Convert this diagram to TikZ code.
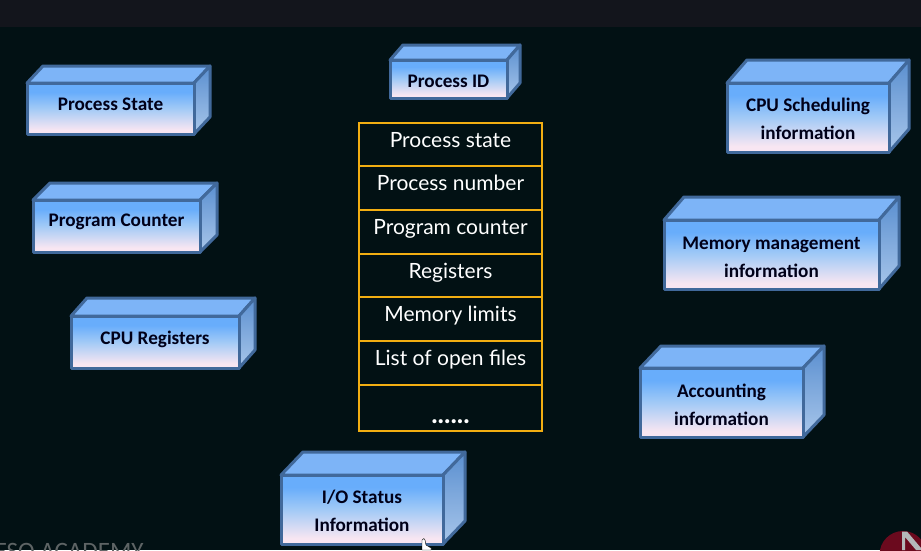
\documentclass[tikz,border=0pt]{standalone}
\usepackage{fontspec}
\setmainfont{Carlito}
\newfontfamily\tablefont{Lato}
\definecolor{bgmain}{HTML}{021114}
\definecolor{bgtop}{HTML}{13151C}
\definecolor{edgeblue}{HTML}{41699B}
\definecolor{faceTop}{HTML}{68ADFB}
\definecolor{faceMid}{HTML}{A2CAF6}
\definecolor{faceBot}{HTML}{F8E6F2}
\definecolor{lidcol}{HTML}{7DB4F7}
\definecolor{sideTop}{HTML}{5A8FD0}
\definecolor{sideBot}{HTML}{A8C6EA}
\definecolor{tablegold}{HTML}{F2AE12}
\definecolor{wine}{HTML}{6B0A1E}
\definecolor{markgray}{HTML}{B4B8BA}
\definecolor{academygray}{HTML}{5E6465}
\pgfdeclareverticalshading{facegrad}{100bp}{color(0bp)=(faceBot); color(29bp)=(faceBot); color(50bp)=(faceMid); color(66bp)=(faceTop); color(100bp)=(faceTop)}
\tikzset{
  boxline/.style={draw=edgeblue,line width=3pt,line join=round},
  boxlabel/.style={font=\fontsize{19.2}{28}\selectfont\bfseries,text=black!90!blue,align=center,inner sep=0pt},
  cell/.style={draw=tablegold,line width=2.6pt,anchor=north west,inner sep=0pt,outer sep=0pt},
  celltext/.style={font=\tablefont\fontsize{21}{24}\selectfont,text=white,inner sep=0pt,anchor=base},
}
% #1 name, #2 x0, #3 y0, #4 x1, #5 y1, #6 dx, #7 dy, #8 text, #9 label shift
\newcommand{\cubebox}[9]{%
  \fill[lidcol,boxline] (#2,#3) -- ++(#6,-#7) -- (#4+#6,#3-#7) -- (#4,#3) -- cycle;
  \shade[top color=sideTop,bottom color=sideBot] (#4,#3) -- (#4+#6,#3-#7) -- (#4+#6,#5-#7) -- (#4,#5) -- cycle;
  \draw[boxline] (#4,#3) -- (#4+#6,#3-#7) -- (#4+#6,#5-#7) -- (#4,#5) -- cycle;
  \shade[shading=facegrad] (#2,#3) rectangle (#4,#5);
  \draw[boxline] (#2,#3) rectangle (#4,#5);
  \node[boxlabel] (#1) at ({(#2+#4)/2},{(#3+#5)/2+#9}) {#8};
}
\newcommand{\tablecell}[4]{% name, ytop, height, text
  \node[cell,minimum width=183pt,minimum height=#3pt] (#1) at (359,#2) {};
  \node[celltext] (#1t) at (450.5,#2+24) {#4};
}
\begin{document}
\begin{tikzpicture}[x=1pt,y=-1pt]
\useasboundingbox (0,0) rectangle (921,550);
\clip (0,0) rectangle (921,550);
\fill[bgmain] (0,0) rectangle (921,550);
\fill[bgtop] (0,0) rectangle (921,27);

\cubebox{pstate}{27}{83}{194}{134}{16}{17}{Process State}{-4}
\cubebox{pid}{390}{60}{507}{98}{13}{15}{Process ID}{2}
\cubebox{pcount}{33}{200}{200}{252}{17}{17}{Program Counter}{-4}
\cubebox{cpureg}{71}{316}{239}{368}{16}{18}{CPU Registers}{-3}
\cubebox{cpusched}{727}{83}{889}{152}{20}{23}{CPU Scheduling\\information}{1.5}
\cubebox{memman}{664}{220}{879}{289}{20}{23}{Memory management\\information}{2.5}
\cubebox{account}{640}{368}{803}{437}{21}{22}{Accounting\\information}{2.5}
\cubebox{iostat}{281}{475}{443}{544}{22}{23}{I/O Status\\Information}{1.5}

\tablecell{c1}{123}{43}{Process state}
\tablecell{c2}{166}{44}{Process number}
\tablecell{c3}{210}{44}{Program counter}
\tablecell{c4}{254}{43}{Registers}
\tablecell{c5}{297}{44}{Memory limits}
\tablecell{c6}{341}{44}{List of open files}
\node[cell,minimum width=183pt,minimum height=46pt] (c7) at (359,385) {};
\node[celltext,font=\tablefont\bfseries\fontsize{27}{27}\selectfont] (c7t) at (450.5,423.5) {......};

\node[font=\fontsize{25}{25}\selectfont,text=academygray,anchor=base west,inner sep=0pt] (brand) at (-21.6,559.5) {NESO ACADEMY};

\fill[wine] (903,554.4) circle (23.4);
\fill[markgray] (902,531.5) -- (907,531.5) -- (921,548) -- (921,550) -- (916,550) -- (905,537) -- (905,550) -- (902,550) -- cycle;

\fill[white,draw=black,line width=0.4pt] (422,550) -- (422,540) .. controls (423,538) and (425,538) .. (425,540) -- (426,545) -- (431,548) -- (431,550) -- cycle;
\end{tikzpicture}
\end{document}
